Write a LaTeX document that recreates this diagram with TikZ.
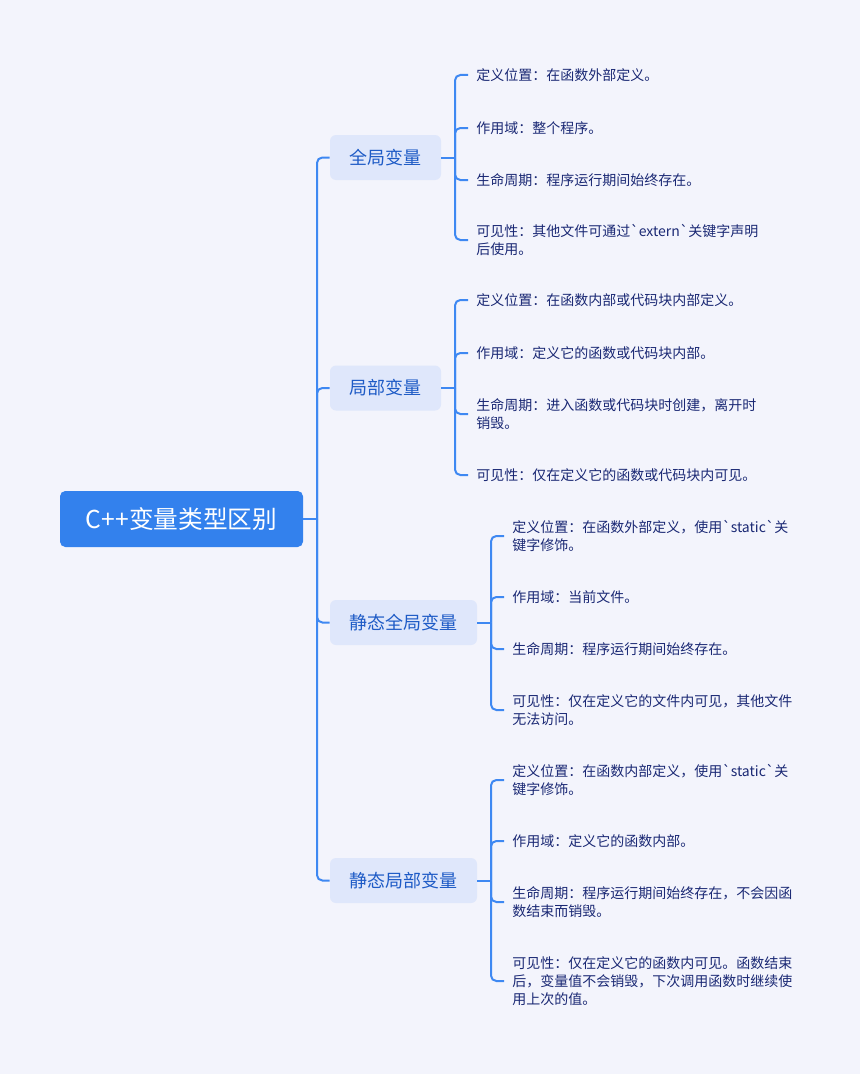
\documentclass[tikz,border=0pt]{standalone}
\usepackage{fontspec}
\setmainfont{Noto Sans CJK SC}
\definecolor{bgcol}{HTML}{F3F4FC}
\definecolor{rootcol}{HTML}{3381ED}
\definecolor{brfill}{HTML}{DFE7FB}
\definecolor{brtext}{HTML}{1E5BC6}
\definecolor{leaftext}{HTML}{1A2874}
\definecolor{linecol}{HTML}{3E88F2}
\begin{document}
\begin{tikzpicture}[x=0.75pt,y=-0.75pt,
  rootbox/.style={fill=rootcol,draw=none,rounded corners=4pt,minimum width=182.25pt,minimum height=42pt,text=white,font=\fontsize{18.5}{22}\selectfont,inner sep=0pt},
  brbox/.style={fill=brfill,draw=none,rounded corners=4.5pt,minimum height=33.75pt,text=brtext,font=\fontsize{13.5}{16}\selectfont,inner sep=0pt},
  leaf/.style={anchor=west,align=left,inner xsep=6pt,inner ysep=0pt,text=leaftext,font=\fontsize{10.5}{13.5}\selectfont},
  conn/.style={draw=linecol,line width=1.5pt,rounded corners=4pt}
]
\fill[bgcol] (0,0) rectangle (860,1074);
\useasboundingbox (0,0) rectangle (860,1074);

\node[rootbox] (root) at (181.5,519) {C++变量类型区别};

\node[brbox,minimum width=83.25pt] (b1) at (385.5,157.5) {全局变量};
\node[brbox,minimum width=83.25pt] (b2) at (385.5,388) {局部变量};
\node[brbox,minimum width=110.25pt] (b3) at (403.5,622.5) {静态全局变量};
\node[brbox,minimum width=110.25pt] (b4) at (403.5,880.5) {静态局部变量};

\coordinate (t) at (317,519);
\coordinate (j1) at (455,157.5);
\coordinate (j2) at (455,388);
\coordinate (j3) at (491,622.5);
\coordinate (j4) at (491,880.5);

% leaves group 1
\node[leaf] (l11) at (468,75) {定义位置：在函数外部定义。};
\node[leaf] (l12) at (468,128) {作用域：整个程序。};
\node[leaf] (l13) at (468,180) {生命周期：程序运行期间始终存在。};
\node[leaf] (l14) at (468,240) {可见性：其他文件可通过\textasciigrave extern\textasciigrave 关键字声明\\后使用。};
% group 2
\node[leaf] (l21) at (468,300) {定义位置：在函数内部或代码块内部定义。};
\node[leaf] (l22) at (468,353) {作用域：定义它的函数或代码块内部。};
\node[leaf] (l23) at (468,414) {生命周期：进入函数或代码块时创建，离开时\\销毁。};
\node[leaf] (l24) at (468,475) {可见性：仅在定义它的函数或代码块内可见。};
% group 3
\node[leaf] (l31) at (504,536) {定义位置：在函数外部定义，使用\textasciigrave static\textasciigrave 关\\键字修饰。};
\node[leaf] (l32) at (504,597) {作用域：当前文件。};
\node[leaf] (l33) at (504,649) {生命周期：程序运行期间始终存在。};
\node[leaf] (l34) at (504,710) {可见性：仅在定义它的文件内可见，其他文件\\无法访问。};
% group 4
\node[leaf] (l41) at (504,780) {定义位置：在函数内部定义，使用\textasciigrave static\textasciigrave 关\\键字修饰。};
\node[leaf] (l42) at (504,841) {作用域：定义它的函数内部。};
\node[leaf] (l43) at (504,902) {生命周期：程序运行期间始终存在，不会因函\\数结束而销毁。};
\node[leaf] (l44) at (504,981) {可见性：仅在定义它的函数内可见。函数结束\\后，变量值不会销毁，下次调用函数时继续使\\用上次的值。};

% trunk
\draw[conn] (root.east) -- (t);
\foreach \b in {b1,b2,b3,b4} \draw[conn] (t) |- (\b.west);

% brackets
\draw[conn] (b1.east) -- (j1);
\draw[conn] (b2.east) -- (j2);
\draw[conn] (b3.east) -- (j3);
\draw[conn] (b4.east) -- (j4);
\foreach \l in {l11,l12,l13,l14} \draw[conn] (j1) |- (\l.west);
\foreach \l in {l21,l22,l23,l24} \draw[conn] (j2) |- (\l.west);
\foreach \l in {l31,l32,l33,l34} \draw[conn] (j3) |- (\l.west);
\foreach \l in {l41,l42,l43,l44} \draw[conn] (j4) |- (\l.west);
\end{tikzpicture}
\end{document}
